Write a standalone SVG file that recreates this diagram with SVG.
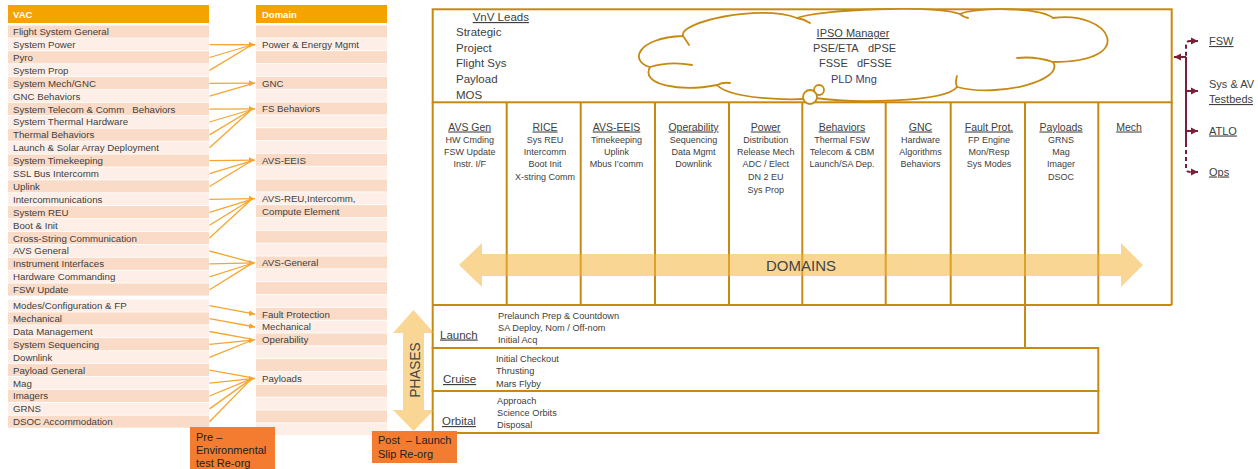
<svg xmlns="http://www.w3.org/2000/svg" width="1258" height="469" viewBox="0 0 1258 469">
  <style>
    text { font-family: "Liberation Sans", Arial, sans-serif; fill: #404040; }
    .cell { font-size: 9.7px; }
    .hd { font-size: 9.5px; font-weight: bold; fill: #ffffff; }
    .hdr { fill: #F5A300; }
    .rd { fill: #FADBC7; }
    .rl { fill: #FDEFE7; }
    .frame { fill: none; stroke: #C68A12; stroke-width: 2; }
    .colh { font-size: 10.5px; text-anchor: middle; text-decoration: underline; }
    .coli { font-size: 9px; text-anchor: middle; }
    .lead { font-size: 11.5px; }
    .ipso { font-size: 11px; }
    .ph { font-size: 11.5px; text-decoration: underline; }
    .phi { font-size: 9.2px; }
    .map { stroke: #F7A52E; stroke-width: 1.3; fill: none; }
    .big { fill: #F4B43C; fill-opacity: 0.55; }
    .bigt { fill: #444444; }
    .box { fill: #F47C30; }
    .boxt { font-size: 11px; fill: #222222; }
    .mar { stroke: #7A1F38; stroke-width: 2; fill: none; }
    .dash { stroke-dasharray: 4 3; }
    .side { font-size: 11px; }
    .ul { text-decoration: underline; }
    .cloud { fill: #ffffff; stroke: #C68A12; stroke-width: 1.8; stroke-linejoin: round; }
    .crease { fill: none; stroke: #C68A12; stroke-width: 1.8; stroke-linecap: round; }
  </style>
  <defs>
    <marker id="ah-orange" markerUnits="userSpaceOnUse" markerWidth="6" markerHeight="6" refX="6" refY="3" orient="auto">
      <path d="M0,0 L6,3 L0,6 Z" fill="#F7A52E"/>
    </marker>
    <marker id="ah-maroon" markerUnits="userSpaceOnUse" markerWidth="8" markerHeight="8" refX="7" refY="4" orient="auto">
      <path d="M0,0.5 L7,4 L0,7.5 Z" fill="#7A1F38"/>
    </marker>
  </defs>

  <rect width="1258" height="469" fill="#ffffff"/>

  <!-- VAC list -->
  <g id="vac-table">
    <rect class="hdr" x="8" y="5" width="201" height="18"/>
    <text class="hd" x="13" y="17.5">VAC</text>
    <rect class="rd" x="8" y="25.5" width="201" height="12.1"/>
    <rect class="rl" x="8" y="38.4" width="201" height="12.1"/>
    <rect class="rd" x="8" y="51.3" width="201" height="12.1"/>
    <rect class="rl" x="8" y="64.2" width="201" height="12.1"/>
    <rect class="rd" x="8" y="77.1" width="201" height="12.1"/>
    <rect class="rl" x="8" y="90.0" width="201" height="12.1"/>
    <rect class="rd" x="8" y="102.9" width="201" height="12.1"/>
    <rect class="rl" x="8" y="115.8" width="201" height="12.1"/>
    <rect class="rd" x="8" y="128.7" width="201" height="12.1"/>
    <rect class="rl" x="8" y="141.6" width="201" height="12.1"/>
    <rect class="rd" x="8" y="154.5" width="201" height="12.1"/>
    <rect class="rl" x="8" y="167.4" width="201" height="12.1"/>
    <rect class="rd" x="8" y="180.3" width="201" height="12.1"/>
    <rect class="rl" x="8" y="193.2" width="201" height="12.1"/>
    <rect class="rd" x="8" y="206.1" width="201" height="12.1"/>
    <rect class="rl" x="8" y="219.0" width="201" height="12.1"/>
    <rect class="rd" x="8" y="231.9" width="201" height="12.1"/>
    <rect class="rl" x="8" y="244.8" width="201" height="12.1"/>
    <rect class="rd" x="8" y="257.7" width="201" height="12.1"/>
    <rect class="rl" x="8" y="270.6" width="201" height="12.1"/>
    <rect class="rd" x="8" y="283.5" width="201" height="12.1"/>
    <rect class="rl" x="8" y="299.5" width="201" height="12.1"/>
    <rect class="rd" x="8" y="312.4" width="201" height="12.1"/>
    <rect class="rl" x="8" y="325.3" width="201" height="12.1"/>
    <rect class="rd" x="8" y="338.2" width="201" height="12.1"/>
    <rect class="rl" x="8" y="351.1" width="201" height="12.1"/>
    <rect class="rd" x="8" y="364.0" width="201" height="12.1"/>
    <rect class="rl" x="8" y="376.9" width="201" height="12.1"/>
    <rect class="rd" x="8" y="389.8" width="201" height="12.1"/>
    <rect class="rl" x="8" y="402.7" width="201" height="12.1"/>
    <rect class="rd" x="8" y="415.6" width="201" height="12.1"/>
    <text class="cell" x="13" y="35.1">Flight System General</text>
    <text class="cell" x="13" y="48.0">System Power</text>
    <text class="cell" x="13" y="60.9">Pyro</text>
    <text class="cell" x="13" y="73.8">System Prop</text>
    <text class="cell" x="13" y="86.7">System Mech/GNC</text>
    <text class="cell" x="13" y="99.6">GNC Behaviors</text>
    <text class="cell" x="13" y="112.5" xml:space="preserve">System Telecom &amp; Comm   Behaviors</text>
    <text class="cell" x="13" y="125.4">System Thermal Hardware</text>
    <text class="cell" x="13" y="138.3">Thermal Behaviors</text>
    <text class="cell" x="13" y="151.2">Launch &amp; Solar Array Deployment</text>
    <text class="cell" x="13" y="164.1">System Timekeeping</text>
    <text class="cell" x="13" y="177.0">SSL Bus Intercomm</text>
    <text class="cell" x="13" y="189.9">Uplink</text>
    <text class="cell" x="13" y="202.8">Intercommunications</text>
    <text class="cell" x="13" y="215.7">System REU</text>
    <text class="cell" x="13" y="228.6">Boot &amp; Init</text>
    <text class="cell" x="13" y="241.5">Cross-String Communication</text>
    <text class="cell" x="13" y="254.4">AVS General</text>
    <text class="cell" x="13" y="267.3">Instrument Interfaces</text>
    <text class="cell" x="13" y="280.2">Hardware Commanding</text>
    <text class="cell" x="13" y="293.1">FSW Update</text>
    <text class="cell" x="13" y="309.1">Modes/Configuration &amp; FP</text>
    <text class="cell" x="13" y="322.0">Mechanical</text>
    <text class="cell" x="13" y="334.9">Data Management</text>
    <text class="cell" x="13" y="347.8">System Sequencing</text>
    <text class="cell" x="13" y="360.7">Downlink</text>
    <text class="cell" x="13" y="373.6">Payload General</text>
    <text class="cell" x="13" y="386.5">Mag</text>
    <text class="cell" x="13" y="399.4">Imagers</text>
    <text class="cell" x="13" y="412.3">GRNS</text>
    <text class="cell" x="13" y="425.2">DSOC Accommodation</text>
  </g>

  <!-- Domain list -->
  <g id="domain-table">
    <rect class="hdr" x="256" y="5" width="131" height="18"/>
    <text class="hd" x="262" y="17.5">Domain</text>
    <rect class="rd" x="256" y="25.5" width="131" height="12"/>
    <rect class="rl" x="256" y="38.33" width="131" height="12"/>
    <rect class="rd" x="256" y="51.16" width="131" height="12"/>
    <rect class="rl" x="256" y="63.99" width="131" height="12"/>
    <rect class="rd" x="256" y="76.82" width="131" height="12"/>
    <rect class="rl" x="256" y="89.65" width="131" height="12"/>
    <rect class="rd" x="256" y="102.48" width="131" height="12"/>
    <rect class="rl" x="256" y="115.31" width="131" height="12"/>
    <rect class="rd" x="256" y="128.14" width="131" height="12"/>
    <rect class="rl" x="256" y="140.97" width="131" height="12"/>
    <rect class="rd" x="256" y="153.8" width="131" height="12"/>
    <rect class="rl" x="256" y="166.63" width="131" height="12"/>
    <rect class="rd" x="256" y="179.46" width="131" height="12"/>
    <rect class="rl" x="256" y="192.29" width="131" height="12"/>
    <rect class="rd" x="256" y="205.12" width="131" height="12"/>
    <rect class="rl" x="256" y="217.95" width="131" height="12"/>
    <rect class="rd" x="256" y="230.78" width="131" height="12"/>
    <rect class="rl" x="256" y="243.61" width="131" height="12"/>
    <rect class="rd" x="256" y="256.44" width="131" height="12"/>
    <rect class="rl" x="256" y="269.27" width="131" height="12"/>
    <rect class="rd" x="256" y="282.1" width="131" height="12"/>
    <rect class="rl" x="256" y="294.93" width="131" height="12"/>
    <rect class="rd" x="256" y="307.76" width="131" height="12"/>
    <rect class="rl" x="256" y="320.59" width="131" height="12"/>
    <rect class="rd" x="256" y="333.42" width="131" height="12"/>
    <rect class="rl" x="256" y="346.25" width="131" height="12"/>
    <rect class="rd" x="256" y="359.08" width="131" height="12"/>
    <rect class="rl" x="256" y="371.91" width="131" height="12"/>
    <rect class="rd" x="256" y="384.74" width="131" height="12"/>
    <rect class="rl" x="256" y="397.57" width="131" height="12"/>
    <rect class="rd" x="256" y="410.4" width="131" height="12"/>
    <rect class="rl" x="256" y="423.23" width="131" height="12"/>
    <text class="cell" x="262" y="48.1">Power &amp; Energy Mgmt</text>
    <text class="cell" x="262" y="86.6">GNC</text>
    <text class="cell" x="262" y="112.3">FS Behaviors</text>
    <text class="cell" x="262" y="163.6">AVS-EEIS</text>
    <text class="cell" x="262" y="202.1">AVS-REU,Intercomm,</text>
    <text class="cell" x="262" y="214.9">Compute Element</text>
    <text class="cell" x="262" y="266.3">AVS-General</text>
    <text class="cell" x="262" y="317.6">Fault Protection</text>
    <text class="cell" x="262" y="330.4">Mechanical</text>
    <text class="cell" x="262" y="343.2">Operability</text>
    <text class="cell" x="262" y="381.7">Payloads</text>
  </g>

  <!-- VAC to domain mapping -->
  <g id="connectors">
    <line class="map" x1="209.5" y1="44.6" x2="255" y2="44.75" marker-end="url(#ah-orange)"/>
    <line class="map" x1="209.5" y1="57.5" x2="250" y2="45.5"/>
    <line class="map" x1="209.5" y1="70.4" x2="250" y2="46"/>

    <line class="map" x1="209.5" y1="83.3" x2="255" y2="83.2" marker-end="url(#ah-orange)"/>
    <line class="map" x1="209.5" y1="96.2" x2="250" y2="84.4"/>

    <line class="map" x1="209.5" y1="109.1" x2="255" y2="108.9" marker-end="url(#ah-orange)"/>
    <line class="map" x1="209.5" y1="122.0" x2="250" y2="110"/>
    <line class="map" x1="209.5" y1="134.9" x2="250" y2="110.5"/>
    <line class="map" x1="209.5" y1="147.8" x2="250" y2="111"/>

    <line class="map" x1="209.5" y1="160.7" x2="255" y2="160.2" marker-end="url(#ah-orange)"/>
    <line class="map" x1="209.5" y1="173.6" x2="250" y2="161.3"/>
    <line class="map" x1="209.5" y1="186.5" x2="250" y2="161.8"/>

    <line class="map" x1="209.5" y1="199.4" x2="255" y2="198.7" marker-end="url(#ah-orange)"/>
    <line class="map" x1="209.5" y1="212.3" x2="250" y2="199.8"/>
    <line class="map" x1="209.5" y1="225.2" x2="250" y2="200.3"/>
    <line class="map" x1="209.5" y1="238.1" x2="250" y2="200.8"/>

    <line class="map" x1="209.5" y1="251.0" x2="250" y2="261.8"/>
    <line class="map" x1="209.5" y1="263.9" x2="255" y2="262.9" marker-end="url(#ah-orange)"/>
    <line class="map" x1="209.5" y1="276.8" x2="250" y2="264"/>
    <line class="map" x1="209.5" y1="289.7" x2="250" y2="264.6"/>

    <line class="map" x1="209.5" y1="305.7" x2="255" y2="314.2" marker-end="url(#ah-orange)"/>
    <line class="map" x1="209.5" y1="318.6" x2="255" y2="327.0" marker-end="url(#ah-orange)"/>

    <line class="map" x1="209.5" y1="331.5" x2="250" y2="338.9"/>
    <line class="map" x1="209.5" y1="344.4" x2="255" y2="339.8" marker-end="url(#ah-orange)"/>
    <line class="map" x1="209.5" y1="357.3" x2="250" y2="341"/>

    <line class="map" x1="209.5" y1="370.2" x2="250" y2="377.4"/>
    <line class="map" x1="209.5" y1="383.1" x2="255" y2="378.3" marker-end="url(#ah-orange)"/>
    <line class="map" x1="209.5" y1="396.0" x2="250" y2="379.4"/>
    <line class="map" x1="209.5" y1="408.9" x2="250" y2="379.9"/>
    <line class="map" x1="209.5" y1="421.8" x2="250" y2="380.4"/>

    <!-- test bed links -->
    <path class="mar" d="M1186,57 H1174" marker-end="url(#ah-maroon)"/>
    <path class="mar dash" d="M1198,41 H1190 Q1186,41 1186,45 V57"/>
    <path class="mar" d="M1186,57 V143"/>
    <path class="mar dash" d="M1186,143 V168 Q1186,172 1190,172 H1198"/>
    <path class="mar" d="M1191,41 H1198" marker-end="url(#ah-maroon)"/>
    <path class="mar" d="M1186,91 H1198" marker-end="url(#ah-maroon)"/>
    <path class="mar" d="M1186,131 H1198" marker-end="url(#ah-maroon)"/>
    <path class="mar" d="M1191,172 H1198" marker-end="url(#ah-maroon)"/>
  </g>

  <!-- Leads panel with cloud -->
  <g id="leads">
    <rect class="frame" x="432.7" y="9.3" width="739" height="93"/>
    <path class="cloud" d="M683,36 C678,22 760,4 797,18 C820,9 935,5 960,14 C975,7 1040,7 1053,18 C1110,10 1140,62 1053,62 C1065,80 1000,98 957,87 C945,103 850,103 815,98 C790,101 730,99 717,85 C680,92 640,85 650,67 C630,62 635,38 683,36 Z"/>
    <path class="crease" d="M683,36 Q686,40 689,45"/>
    <path class="crease" d="M650,67 Q670,61 692,65"/>
    <path class="crease" d="M717,85 Q723,82 730,83"/>
    <path class="crease" d="M957,87 Q955,82 957,76"/>
    <path class="crease" d="M1053,62 Q1035,56 1017,58"/>
    <path class="crease" d="M960,14 Q963,17 968,18"/>
    <path class="crease" d="M797,18 Q804,19 810,23"/>
    <circle class="cloud" cx="819" cy="90" r="5"/>
    <circle class="cloud" cx="810" cy="97" r="7"/>
    <text class="lead ul" x="472.7" y="21">VnV Leads</text>
    <text class="lead" x="456" y="36">Strategic</text>
    <text class="lead" x="456" y="51.5">Project</text>
    <text class="lead" x="456" y="67">Flight Sys</text>
    <text class="lead" x="456" y="83">Payload</text>
    <text class="lead" x="456" y="99">MOS</text>
    <text class="ipso ul" x="853" y="37" text-anchor="middle">IPSO Manager</text>
    <text class="ipso" x="813" y="52">PSE/ETA</text>
    <text class="ipso" x="868" y="52">dPSE</text>
    <text class="ipso" x="819" y="67">FSSE</text>
    <text class="ipso" x="857" y="67">dFSSE</text>
    <text class="ipso" x="831" y="83" style="fill:#3F3A6E">PLD Mng</text>
  </g>

  <!-- Domain columns -->
  <g id="domain-columns">
    <path class="frame" d="M432.7,102 V305 M506.7,102 V305 M580.7,102 V305 M655,102 V305 M729,102 V305 M802.3,102 V305 M885.7,102 V305 M950.7,102 V305 M1025,102 V305 M1098.3,102 V305 M1171.7,102 V305 M432.7,305 H1171.7"/>
    <g id="col-avs-gen">
      <text class="colh" x="469.7" y="130.5">AVS Gen</text>
      <text class="coli" x="469.7" y="142.5">HW Cmding</text>
      <text class="coli" x="469.7" y="155">FSW Update</text>
      <text class="coli" x="469.7" y="167">Instr. I/F</text>
    </g>
    <g id="col-rice">
      <text class="colh" x="545" y="130.5">RICE</text>
      <text class="coli" x="545" y="142.5">Sys REU</text>
      <text class="coli" x="545" y="155">Intercomm</text>
      <text class="coli" x="545" y="167">Boot Init</text>
      <text class="coli" x="545" y="180">X-string Comm</text>
    </g>
    <g id="col-avs-eeis">
      <text class="colh" x="616.5" y="130.5">AVS-EEIS</text>
      <text class="coli" x="616.5" y="142.5">Timekeeping</text>
      <text class="coli" x="616.5" y="155">Uplink</text>
      <text class="coli" x="616.5" y="167">Mbus I’comm</text>
    </g>
    <g id="col-operability">
      <text class="colh" x="693.5" y="130.5">Operability</text>
      <text class="coli" x="693.5" y="142.5">Sequencing</text>
      <text class="coli" x="693.5" y="155">Data Mgmt</text>
      <text class="coli" x="693.5" y="167">Downlink</text>
    </g>
    <g id="col-power">
      <text class="colh" x="765.7" y="130.5">Power</text>
      <text class="coli" x="765.7" y="142.5">Distribution</text>
      <text class="coli" x="765.7" y="155">Release Mech</text>
      <text class="coli" x="765.7" y="167">ADC / Elect</text>
      <text class="coli" x="765.7" y="180">DN 2 EU</text>
      <text class="coli" x="765.7" y="192.5">Sys Prop</text>
    </g>
    <g id="col-behaviors">
      <text class="colh" x="842" y="130.5">Behaviors</text>
      <text class="coli" x="842" y="142.5">Thermal FSW</text>
      <text class="coli" x="842" y="155">Telecom &amp; CBM</text>
      <text class="coli" x="842" y="167">Launch/SA Dep.</text>
    </g>
    <g id="col-gnc">
      <text class="colh" x="920.5" y="130.5">GNC</text>
      <text class="coli" x="920.5" y="142.5">Hardware</text>
      <text class="coli" x="920.5" y="155">Algorithms</text>
      <text class="coli" x="920.5" y="167">Behaviors</text>
    </g>
    <g id="col-fault-prot">
      <text class="colh" x="989" y="130.5">Fault Prot.</text>
      <text class="coli" x="989" y="142.5">FP Engine</text>
      <text class="coli" x="989" y="155">Mon/Resp</text>
      <text class="coli" x="989" y="167">Sys Modes</text>
    </g>
    <g id="col-payloads">
      <text class="colh" x="1061" y="130.5">Payloads</text>
      <text class="coli" x="1061" y="142.5">GRNS</text>
      <text class="coli" x="1061" y="155">Mag</text>
      <text class="coli" x="1061" y="167">Imager</text>
      <text class="coli" x="1061" y="180">DSOC</text>
    </g>
    <g id="col-mech">
      <text class="colh" x="1129" y="130.5">Mech</text>
    </g>
  </g>

  <!-- Mission phases -->
  <g id="phase-launch">
    <path class="frame" d="M432.7,305 V348 H1025 V305"/>
    <text class="ph" x="440" y="338.5">Launch</text>
    <text class="phi" x="498" y="318.5">Prelaunch Prep &amp; Countdown</text>
    <text class="phi" x="498" y="330.5">SA Deploy, Nom / Off-nom</text>
    <text class="phi" x="498" y="342.5">Initial Acq</text>
  </g>
  <g id="phase-cruise">
    <rect class="frame" x="432.7" y="348" width="665.6" height="43"/>
    <text class="ph" x="443" y="383">Cruise</text>
    <text class="phi" x="496" y="361.5">Initial Checkout</text>
    <text class="phi" x="496" y="374">Thrusting</text>
    <text class="phi" x="496" y="386.5">Mars Flyby</text>
  </g>
  <g id="phase-orbital">
    <rect class="frame" x="432.7" y="391" width="665.6" height="42"/>
    <text class="ph" x="442" y="425">Orbital</text>
    <text class="phi" x="497" y="403.5">Approach</text>
    <text class="phi" x="497" y="415.5">Science Orbits</text>
    <text class="phi" x="497" y="427.5">Disposal</text>
  </g>

  <!-- Domains band arrow -->
  <g id="domains-arrow">
    <path class="big" d="M459,265 L482,243 L482,254 L1121,254 L1121,243 L1143,265 L1121,287 L1121,276 L482,276 L482,287 Z"/>
    <text class="bigt" x="801" y="270.5" font-size="15" text-anchor="middle">DOMAINS</text>
  </g>

  <!-- Phases band arrow -->
  <g id="phases-arrow">
    <path class="big" d="M413.5,310 L434,333 L424,333 L424,410 L434,410 L413.5,431 L393,410 L403,410 L403,333 L393,333 Z"/>
    <text class="bigt" transform="translate(419.5,370) rotate(-90)" font-size="15" text-anchor="middle" textLength="55" lengthAdjust="spacingAndGlyphs">PHASES</text>
  </g>

  <!-- Re-org notes -->
  <g id="pre-env-reorg">
    <rect class="box" x="190" y="427" width="85" height="42"/>
    <text class="boxt" x="196" y="441">Pre –</text>
    <text class="boxt" x="196" y="454">Environmental</text>
    <text class="boxt" x="196" y="467">test Re-org</text>
  </g>
  <g id="post-launch-reorg">
    <rect class="box" x="372" y="431" width="85" height="32"/>
    <text class="boxt" x="378" y="444" xml:space="preserve">Post  – Launch</text>
    <text class="boxt" x="378" y="458">Slip Re-org</text>
  </g>

  <!-- Test venues -->
  <g id="venue-fsw"><text class="side ul" x="1209" y="45">FSW</text></g>
  <g id="venue-testbeds">
    <text class="side" x="1209" y="87.5">Sys &amp; AV</text>
    <text class="side ul" x="1209" y="103">Testbeds</text>
  </g>
  <g id="venue-atlo"><text class="side ul" x="1209" y="134.5">ATLO</text></g>
  <g id="venue-ops"><text class="side ul" x="1209" y="175.5">Ops</text></g>
</svg>
